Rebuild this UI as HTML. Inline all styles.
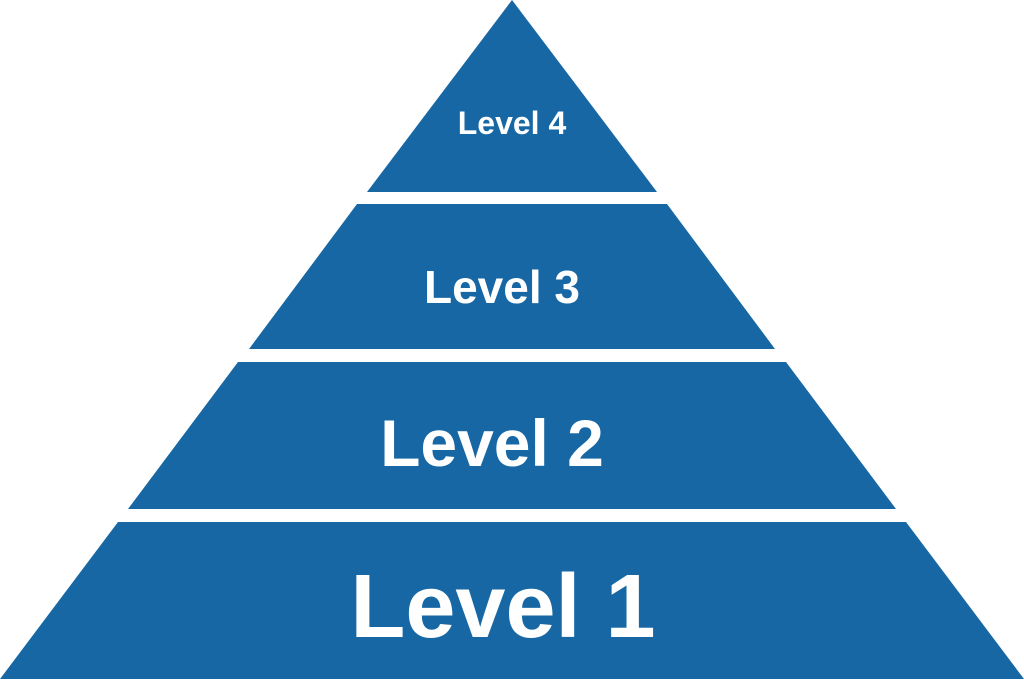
<!DOCTYPE html>
<html><head><meta charset="utf-8"><style>
html,body{margin:0;padding:0;background:#fff;width:1024px;height:681px;overflow:hidden}
svg{display:block}
text{font-family:"Liberation Sans",Arial,sans-serif;font-weight:bold;fill:#fff;text-anchor:middle}
</style></head><body>
<svg width="1024" height="681" viewBox="0 0 1024 681">
<g fill="#1667a4">
<polygon points="512,0 657,192 367,192"/>
<polygon points="357,204 667,204 775,349 249,349"/>
<polygon points="238,362 786,362 896,509 128,509"/>
<polygon points="118,522 906,522 1024,679 0,679"/>
</g>
<text x="512" y="134" font-size="32">Level 4</text>
<text x="502" y="303" font-size="46">Level 3</text>
<text x="492" y="466" font-size="66">Level 2</text>
<text x="503" y="637" font-size="90">Level 1</text>
</svg>
</body></html>
